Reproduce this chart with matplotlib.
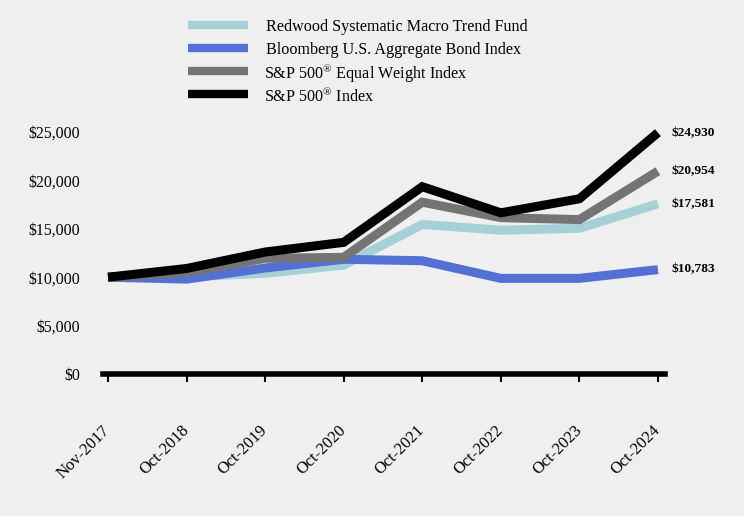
"""Growth of $10,000 — Redwood Systematic Macro Trend Fund vs. indices"""

import matplotlib
matplotlib.use("Agg")
import matplotlib.pyplot as plt
from matplotlib.lines import Line2D
from matplotlib.ticker import FuncFormatter

# ── data ──
periods = ["Nov-2017", "Oct-2018", "Oct-2019", "Oct-2020",
           "Oct-2021", "Oct-2022", "Oct-2023", "Oct-2024"]
fund = [10000, 10050, 10400, 11250, 15450, 14850, 15050, 17581]
bond = [10000, 9800, 10950, 11850, 11700, 9880, 9880, 10783]
sp_eq = [10000, 10500, 11950, 12050, 17750, 16150, 15950, 20954]
sp500 = [10000, 10900, 12600, 13600, 19350, 16650, 18100, 24930]

series = [
    ("Redwood Systematic Macro Trend Fund", fund, "#a5d0d6"),
    ("Bloomberg U.S. Aggregate Bond Index", bond, "#5470d4"),
    ("S&P 500$^{\\mathrm{®}}$ Equal Weight Index", sp_eq, "#747474"),
    ("S&P 500$^{\\mathrm{®}}$ Index", sp500, "#000000"),
]

plt.rcParams["font.family"] = ["Liberation Serif", "DejaVu Serif"]
plt.rcParams["mathtext.fontset"] = "custom"
plt.rcParams["mathtext.rm"] = "Liberation Serif"

bg = "#efefef"
fig = plt.figure(figsize=(7.44, 5.16), dpi=100, facecolor=bg)
ax = fig.add_axes([0.1384, 0.2752, 0.7554, 0.4690], facecolor=bg)

x = list(range(len(periods)))
for name, vals, col in series:
    ax.plot(x, vals, color=col, linewidth=6.5, label=name,
            solid_joinstyle="miter", solid_capstyle="butt", clip_on=False)

# end labels
for _, vals, _ in series:
    ax.annotate(f"${vals[-1]:,.0f}", (x[-1], vals[-1]), xytext=(9.5, 0),
                textcoords="offset points", va="center", ha="left",
                fontsize=9.6, fontweight="bold")

ax.set_xlim(-0.064, 7.09)
ax.set_ylim(0, 25000)
ax.set_yticks(range(0, 25001, 5000))
ax.yaxis.set_major_formatter(FuncFormatter(lambda v, p: f"${v:,.0f}"))
ax.tick_params(axis="y", length=0, pad=16.5, labelsize=11.4)
ax.set_xticks(x)
ax.set_xticklabels(periods, rotation=45, ha="right", va="center",
                   rotation_mode="anchor")
ax.tick_params(axis="x", direction="out", length=6, width=1.5, pad=33,
               labelsize=12)

for s in ["top", "right", "left"]:
    ax.spines[s].set_visible(False)
ax.spines["bottom"].set_linewidth(4)
ax.spines["bottom"].set_zorder(5)

# legend, drawn by hand so the rows stay evenly spaced
W, H = 744, 516
for i, (name, _, col) in enumerate(series):
    yc = 1 - (24.7 + 23.2 * i) / H
    fig.add_artist(Line2D([188 / W, 248 / W], [yc, yc], color=col,
                          linewidth=6, solid_capstyle="butt"))
    tx = 264.5 if "$" in name else 266
    fig.text(tx / W, yc, name, fontsize=11.6, va="center_baseline",
             ha="left")

plt.savefig("out.png", dpi=100, facecolor=bg)
